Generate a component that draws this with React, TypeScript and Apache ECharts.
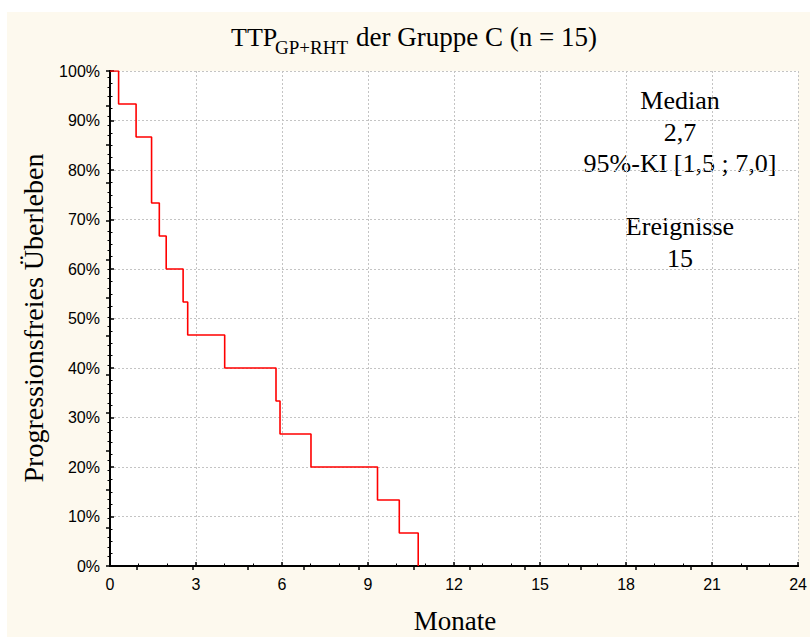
import React, { useEffect, useRef } from "react";
import * as echarts from "echarts";

// Kaplan-Meier steps (time in months, progression-free survival in %)
const months = [0, 0.3, 0.91, 1.45, 1.72, 1.96, 2.55, 2.71, 4.0, 5.79, 5.93, 7.01, 9.33, 10.09, 10.75];
const survival = [100, 93.33, 86.67, 73.33, 66.67, 60, 53.33, 46.67, 40, 33.33, 26.67, 20, 13.33, 6.67, 0];

// odd tick marks of the top frame axis (in months)
const topTickValues = [0.95, 2.88, 4.81, 6.75, 8.68, 10.61, 12.54, 14.47, 16.41, 18.34, 20.27, 22.2];

const titleMain = "TTP";
const titleSub = "GP+RHT";
const titleRest = "der Gruppe C (n = 15)";
const xName = "Monate";
const yName = "Progressionsfreies Überleben";
const annotationLines = ["Median", "2,7", "95%-KI [1,5 ; 7,0]", "", "Ereignisse", "15"];

const SERIF = "'Liberation Serif', 'Times New Roman', serif";
const SANS = "'Liberation Sans', Arial, sans-serif";

export default function App() {
  const ref = useRef<HTMLDivElement>(null);
  useEffect(() => {
    if (!ref.current) return;
    const chart = echarts.init(ref.current, null, { renderer: "svg" });
    const data = months.map((m, i) => [m, survival[i]]);
    const axisLine = { show: true, lineStyle: { color: "#000", width: 2 } };
    chart.setOption({
      animation: false,
      graphic: [
        {
          type: "rect",
          z: -100,
          silent: true,
          shape: { x: 7, y: 12, width: 803, height: 625 },
          style: { fill: "#fdf9ee" },
        },
        {
          type: "text",
          x: 231,
          y: 37,
          style: { text: titleMain, font: `26px ${SERIF}`, fill: "#000", textAlign: "left", textVerticalAlign: "middle" },
        },
        {
          type: "text",
          x: 275,
          y: 47,
          style: { text: titleSub, font: `19px ${SERIF}`, fill: "#000", textAlign: "left", textVerticalAlign: "middle" },
        },
        {
          type: "text",
          x: 356,
          y: 37,
          style: { text: titleRest, font: `27px ${SERIF}`, fill: "#000", textAlign: "left", textVerticalAlign: "middle" },
        },
        {
          type: "text",
          x: 680,
          y: 85,
          style: {
            text: annotationLines.join("\n"),
            font: `26px ${SERIF}`,
            lineHeight: 31.5,
            fill: "#000",
            textAlign: "center",
            textVerticalAlign: "top",
          },
        },
        {
          type: "text",
          x: 455,
          y: 621,
          style: { text: xName, font: `27px ${SERIF}`, fill: "#000", textAlign: "center", textVerticalAlign: "middle" },
        },
        {
          type: "text",
          x: 33,
          y: 318,
          rotation: Math.PI / 2,
          style: { text: yName, font: `28px ${SERIF}`, fill: "#000", textAlign: "center", textVerticalAlign: "middle" },
        },
      ],
      grid: {
        left: 110,
        right: 9,
        top: 71,
        bottom: 71,
        show: true,
        backgroundColor: "#ffffff",
        borderWidth: 0,
      },
      xAxis: [
        {
          type: "value",
          position: "bottom",
          min: 0,
          max: 24,
          interval: 3,
          axisLine,
          axisTick: { show: true, inside: true, length: 4, lineStyle: { color: "#000", width: 1.5 } },
          minorTick: { show: true, splitNumber: 3, length: 2.5, lineStyle: { color: "#000", width: 1 } },
          axisLabel: { show: true, margin: 10, color: "#000", fontFamily: SANS, fontSize: 16 },
          splitLine: { show: true, lineStyle: { color: "#c4c4c4", type: [2, 2], width: 1 } },
        },
        {
          type: "value",
          position: "top",
          min: 0,
          max: 24,
          axisLine,
          axisTick: {
            show: true,
            inside: true,
            length: 4,
            customValues: topTickValues,
            lineStyle: { color: "#000", width: 1.5 },
          },
          axisLabel: { show: false },
          splitLine: { show: false },
        },
      ],
      yAxis: [
        {
          type: "value",
          position: "left",
          min: 0,
          max: 100,
          interval: 10,
          axisLine,
          axisTick: { show: true, inside: true, length: 4, lineStyle: { color: "#000", width: 1.5 } },
          minorTick: { show: true, splitNumber: 4, length: 2.5, lineStyle: { color: "#000", width: 1 } },
          axisLabel: { show: true, margin: 10, color: "#000", fontFamily: SANS, fontSize: 16, formatter: "{value}%" },
          splitLine: { show: true, lineStyle: { color: "#c4c4c4", type: [2, 2], width: 1 } },
        },
        {
          type: "value",
          position: "right",
          min: 0,
          max: 12.92,
          interval: 1,
          axisLine,
          axisTick: { show: true, inside: true, length: 4, lineStyle: { color: "#000", width: 1.5 } },
          minorTick: { show: true, splitNumber: 4, length: 2.5, lineStyle: { color: "#000", width: 1 } },
          axisLabel: { show: false },
          splitLine: { show: false },
        },
      ],
      series: [
        {
          type: "line",
          xAxisIndex: 0,
          yAxisIndex: 0,
          step: "end",
          data,
          symbol: "none",
          lineStyle: { color: "#ff0000", width: 1.6 },
          z: 5,
        },
      ],
    });
    return () => chart.dispose();
  }, []);
  return (
    <div
      ref={ref}
      style={{ position: "absolute", left: 0, top: 0, width: 810, height: 637, background: "#ffffff" }}
    />
  );
}
